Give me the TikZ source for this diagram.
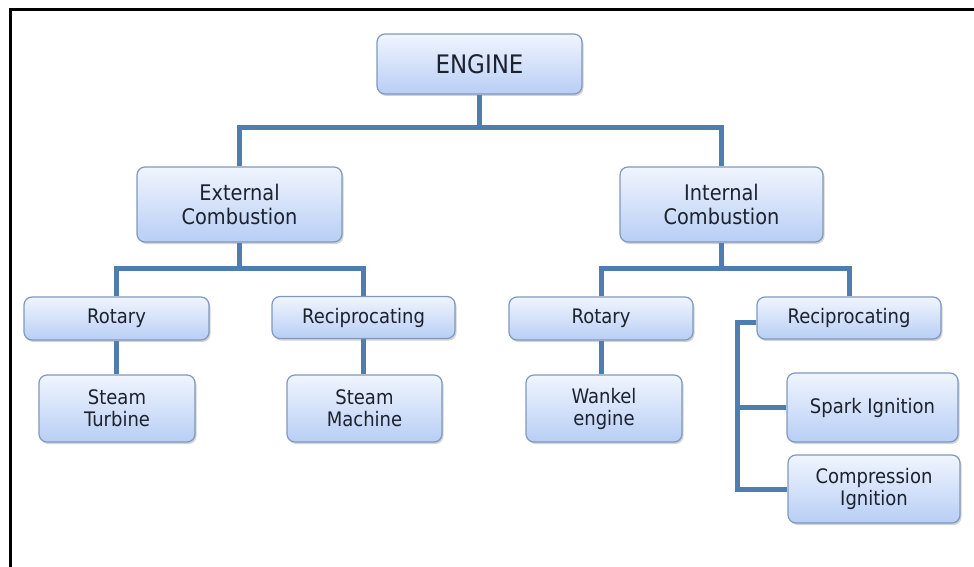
\documentclass[tikz,border=0pt]{standalone}
\usepackage{fontspec}
\setmainfont[FakeStretch=0.9]{DejaVu Sans}
\usetikzlibrary{shadows,backgrounds,calc}
\definecolor{conncol}{RGB}{79,125,176}
\definecolor{boxtop}{RGB}{240,245,254}
\definecolor{boxbot}{RGB}{184,206,245}
\definecolor{boxedge}{RGB}{128,152,190}
\definecolor{txtcol}{RGB}{28,34,46}
\tikzset{
  box/.style={draw=boxedge, line width=1.2pt, rounded corners=8pt,
    top color=boxtop, bottom color=boxbot, text=txtcol, align=center,
    inner sep=0pt, anchor=center,
    drop shadow={opacity=0.35, shadow xshift=1.5pt, shadow yshift=-2pt}},
  topbox/.style={box, font=\fontsize{25.5}{30}\selectfont},
  midbox/.style={box, font=\fontsize{21.5}{24}\selectfont},
  lowbox/.style={box, font=\fontsize{20}{22}\selectfont},
  conn/.style={draw=conncol, line width=5pt, line join=miter},
  frameline/.style={draw=black, line width=3pt}
}
\begin{document}
\begin{tikzpicture}[x=1pt,y=-1pt]
\useasboundingbox (0,0) rectangle (974,567);
\draw[frameline] (10,567) -- (10,10) -- (974,10);

\node[topbox, minimum width=205pt, minimum height=60pt] (engine) at (479.5,64) {ENGINE};
\node[midbox, minimum width=205pt, minimum height=75pt] (ext) at (239.5,204.5) {External\\Combustion};
\node[midbox, minimum width=203pt, minimum height=75pt] (int) at (721.5,204.5) {Internal\\Combustion};

\node[lowbox, minimum width=185pt, minimum height=43pt] (rot1) at (116.5,318.5) {Rotary};
\node[lowbox, minimum width=183pt, minimum height=42pt] (rec1) at (363.5,317.5) {Reciprocating};
\node[lowbox, minimum width=156pt, minimum height=67pt] (st) at (117,408.5) {Steam\\Turbine};
\node[lowbox, minimum width=155pt, minimum height=67pt] (sm) at (364.5,408.5) {Steam\\Machine};

\node[lowbox, minimum width=184pt, minimum height=43pt] (rot2) at (601,318.5) {Rotary};
\node[lowbox, minimum width=156pt, minimum height=67pt] (wank) at (604,408.5) {Wankel\\engine};
\node[lowbox, minimum width=184pt, minimum height=42pt] (rec2) at (849,318) {Reciprocating};
\node[lowbox, minimum width=171pt, minimum height=69pt] (spark) at (872.5,407.5) {Spark Ignition};
\node[lowbox, minimum width=172pt, minimum height=68pt] (comp) at (874,489) {Compression\\Ignition};

\coordinate (j0) at (479.5,128);
\coordinate (jl) at (239.5,268);
\coordinate (jr) at (721.5,268);
\coordinate (bx) at (737,0);

\begin{scope}[on background layer]
\draw[conn] (engine.south) -- (j0);
\draw[conn] (ext.north) |- (j0) -| (int.north);
\draw[conn] (ext.south) -- (jl);
\draw[conn] (rot1.north) |- (jl) -| (rec1.north);
\draw[conn] (int.south) -- (jr);
\draw[conn] (rot2.north) |- (jr) -| (rec2.north);
\draw[conn] (rot1.south) -- (rot1.south |- st.north);
\draw[conn] (rec1.south) -- (rec1.south |- sm.north);
\draw[conn] (rot2.south) -- (rot2.south |- wank.north);
\draw[conn] ($(rec2.west)+(0,4)$) -| (bx |- comp.west) -- (comp.west);
\draw[conn] (bx |- spark.west) -- (spark.west);
\end{scope}
\end{tikzpicture}
\end{document}
